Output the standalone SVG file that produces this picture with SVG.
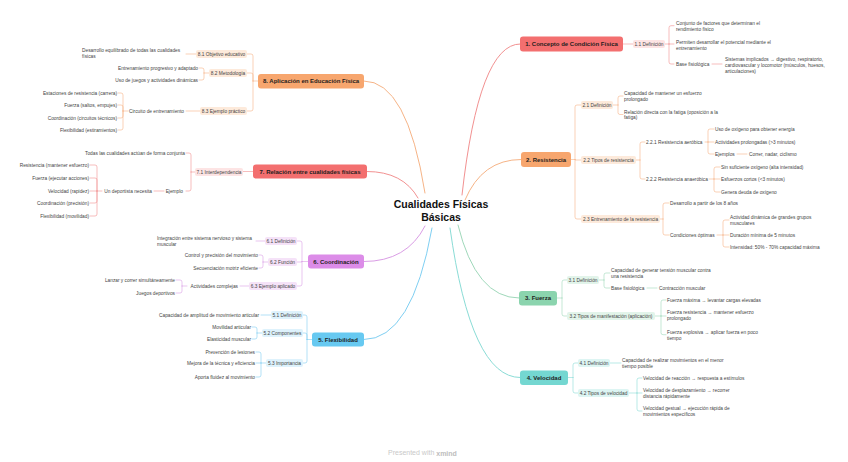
<svg xmlns="http://www.w3.org/2000/svg" width="848" height="462" viewBox="0 0 848 462">
<style>
text{font-family:"Liberation Sans",Arial,sans-serif;dominant-baseline:central;fill:#444}
.t{font-size:4.8px}
.e{text-anchor:end}
.lb{text-anchor:middle}
.n{font-size:6px;font-weight:bold;text-anchor:middle;fill:#1e1e1e}
.root{font-size:10.5px;font-weight:bold;text-anchor:middle;fill:#111}
.ft{font-size:7px;fill:#c9c9c9}
path{fill:none;stroke-linecap:round}
.m{stroke-width:1}
.s{stroke-width:.6}
.r{stroke:#F29191}.o{stroke:#F6B487}.g{stroke:#9FD8BA}.tl{stroke:#8ADCD6}.b{stroke:#7FCFF2}.p{stroke:#DA9DE5}
.br{fill:#F36F6F}.bo{fill:#F7A66E}.bg{fill:#8BD4AE}.bt{fill:#74D7D1}.bb{fill:#67C9F1}.bp{fill:#DC8CE8}
.lr{fill:#FDE4E4}.lo{fill:#FDEADB}.lg{fill:#E2F4EA}.lt{fill:#DDF5F3}.lbb{fill:#DEF2FC}.lp{fill:#F5E2F8}
</style>
<rect width="848" height="462" fill="#fff"/>
<g id="connectors">
<path class="m r" d="M462 195 Q479 44 520 44"/>
<path class="m o" d="M465 200 Q482 159.5 521 159.5"/>
<path class="m g" d="M458 225 Q476 298 519 298"/>
<path class="m tl" d="M450 228 Q471 377.5 520 377.5"/>
<path class="m b" d="M432 228 Q412 339.5 364 339.5"/>
<path class="m p" d="M425 226 Q407 261.5 364 261.5"/>
<path class="m r" d="M418 198 Q403 171.5 367 171.5"/>
<path class="m o" d="M425 193 Q407 81 364 81"/>
<path class="s r" d="M623 44 H633 M665 44 H669 M669 44 V27.7 Q669 25.7 671 25.7 H674 M669 44 H674 M669 44 V62 Q669 64 671 64 H674 M712 64 H722"/>
<path class="s o" d="M571 159.5 H575 M575 159.5 V107 Q575 105 577 105 H581 M575 159.5 V160 H581 M575 159.5 V217 Q575 219 577 219 H581 M613 105 H618 M618 105 V98 Q618 96 620 96 H623 M618 105 V112.5 Q618 114.5 620 114.5 H623 M636 160 H640 M640 160 V144 Q640 142 642 142 H645 M640 160 V177 Q640 179 642 179 H645 M705 142 H708 M708 142 V131 Q708 129 710 129 H714 M708 142 H714 M708 142 V152 Q708 154 710 154 H714 M737 154 H747 M709 179 H714 M714 179 V169 Q714 167 716 167 H720 M714 179 H720 M714 179 V190 Q714 192 716 192 H720 M660 219 H663 M663 219 V205 Q663 203 665 203 H669 M663 219 V233 Q663 235 665 235 H669 M717 235 H723 M723 235 V222 Q723 220 725 220 H729 M723 235 H729 M723 235 V245 Q723 247 725 247 H729"/>
<path class="s g" d="M557 298 H562 M562 298 V282 Q562 280 564 280 H567 M562 298 V314 Q562 316 564 316 H567 M599 280 H604 M604 280 V275 Q604 273 606 273 H610 M604 280 V286 Q604 288 606 288 H610 M647 288 H657 M655 316 H661 M661 316 V302 Q661 300 663 300 H666 M661 316 H666 M661 316 V332.7 Q661 334.7 663 334.7 H666"/>
<path class="s tl" d="M568 377.5 H573 M573 377.5 V365 Q573 363 575 363 H578 M573 377.5 V391 Q573 393 575 393 H578 M610 363 H621 M629 393 H637 M637 393 V380 Q637 378 639 378 H642 M637 393 H642 M637 393 V409 Q637 411 639 411 H642"/>
<path class="s o" d="M258 81 H253 M253 81 V56 Q253 54 251 54 H247 M253 81 V75 Q253 73 251 73 H247 M253 81 V109 Q253 111 251 111 H247 M196 54 H186 M209 73 H204 M204 73 V70 Q204 68 202 68 H199 M204 73 V78 Q204 80 202 80 H199 M200 111 H186 M128 111 H123 M123 111 V95 Q123 93 121 93 H118 M123 111 V107 Q123 105 121 105 H118 M123 111 V116 Q123 118 121 118 H118 M123 111 V128 Q123 130 121 130 H118"/>
<path class="s r" d="M253 171.5 H243 M195 172 H191 M191 172 V155 Q191 153 189 153 H186 M191 172 V189 Q191 191 189 191 H186 M164 191 H154 M102 191 H97 M97 191 V167 Q97 165 95 165 H90 M97 191 V180 Q97 178 95 178 H90 M97 191 H90 M97 191 V201 Q97 203 95 203 H90 M97 191 V214 Q97 216 95 216 H90"/>
<path class="s p" d="M308 261.5 H302 M302 261.5 V243 Q302 241 300 241 H297 M302 261.5 V262 H297 M302 261.5 V284 Q302 286 300 286 H297 M265 241 H256 M268 262 H263 M263 262 V257 Q263 255 261 255 H259 M263 262 V266 Q263 268 261 268 H259 M249 286 H240 M187 286 H182 M182 286 V282 Q182 280 180 280 H176 M182 286 V291 Q182 293 180 293 H176"/>
<path class="s b" d="M312 339.5 H307 M307 339.5 V317 Q307 315 305 315 H303 M307 339.5 V335 Q307 333 305 333 H303 M307 339.5 V361 Q307 363 305 363 H303 M271 315 H261 M262 333 H257 M257 333 V329 Q257 327 255 327 H252 M257 333 V337 Q257 339 255 339 H252 M266 363 H261 M261 363 V354 Q261 352 259 352 H256 M261 363 H256 M261 363 V375 Q261 377 259 377 H256"/>
</g>
<g id="root"><text class="root" x="441" y="204">Cualidades Físicas</text><text class="root" x="441" y="217">Básicas</text></g>
<!-- Branch 1 -->
<g id="n1"><rect class="br" x="520" y="36.5" width="103" height="15" rx="3"/><text class="n" x="571.5" y="44">1. Concepto de Condición Física</text></g>
<g id="n1-1"><rect class="lr" x="633" y="40" width="32" height="8" rx="2"/><text class="t lb" x="649" y="44">1.1 Definición</text></g>
<g id="n1-1-a"><text class="t"><tspan x="676" y="23">Conjunto de factores que determinan el</tspan><tspan x="676" y="28.6">rendimiento físico</tspan></text></g>
<g id="n1-1-b"><text class="t"><tspan x="676" y="42">Permiten desarrollar el potencial mediante el</tspan><tspan x="676" y="47.6">entrenamiento</tspan></text></g>
<g id="n1-1-c"><text class="t" x="676" y="64">Base fisiológica</text></g>
<g id="n1-1-c-a"><text class="t"><tspan x="725" y="59">Sistemas implicados → digestivo, respiratorio,</tspan><tspan x="725" y="64.8">cardiovascular y locomotor (músculos, huesos,</tspan><tspan x="725" y="70.6">articulaciones)</tspan></text></g>
<!-- Branch 2 -->
<g id="n2"><rect class="bo" x="521" y="152" width="50" height="15" rx="3"/><text class="n" x="546" y="159.5">2. Resistencia</text></g>
<g id="n2-1"><rect class="lo" x="581" y="101" width="32" height="8" rx="2"/><text class="t lb" x="597" y="105">2.1 Definición</text></g>
<g id="n2-1-a"><text class="t"><tspan x="624" y="93.3">Capacidad de mantener un esfuerzo</tspan><tspan x="624" y="99">prolongado</tspan></text></g>
<g id="n2-1-b"><text class="t"><tspan x="624" y="111.8">Relación directa con la fatiga (oposición a la</tspan><tspan x="624" y="117.4">fatiga)</tspan></text></g>
<g id="n2-2"><rect class="lo" x="581" y="156" width="55" height="8" rx="2"/><text class="t lb" x="608.5" y="160">2.2 Tipos de resistencia</text></g>
<g id="n2-2-1"><text class="t" x="646" y="142">2.2.1 Resistencia aeróbica</text></g>
<g id="n2-2-1-a"><text class="t" x="715" y="129">Uso de oxígeno para obtener energía</text></g>
<g id="n2-2-1-b"><text class="t" x="715" y="142">Actividades prolongadas (&gt;3 minutos)</text></g>
<g id="n2-2-1-c"><text class="t" x="715" y="154">Ejemplos</text></g>
<g id="n2-2-1-c-a"><text class="t" x="749" y="154">Correr, nadar, ciclismo</text></g>
<g id="n2-2-2"><text class="t" x="646" y="179">2.2.2 Resistencia anaeróbica</text></g>
<g id="n2-2-2-a"><text class="t" x="721" y="167">Sin suficiente oxígeno (alta intensidad)</text></g>
<g id="n2-2-2-b"><text class="t" x="721" y="179">Esfuerzos cortos (&lt;3 minutos)</text></g>
<g id="n2-2-2-c"><text class="t" x="721" y="192">Genera deuda de oxígeno</text></g>
<g id="n2-3"><rect class="lo" x="581" y="215" width="79" height="8" rx="2"/><text class="t lb" x="620.5" y="219">2.3 Entrenamiento de la resistencia</text></g>
<g id="n2-3-a"><text class="t" x="670" y="203">Desarrollo a partir de los 8 años</text></g>
<g id="n2-3-b"><text class="t" x="670" y="235">Condiciones óptimas</text></g>
<g id="n2-3-b-a"><text class="t"><tspan x="730" y="217">Actividad dinámica de grandes grupos</tspan><tspan x="730" y="222.8">musculares</tspan></text></g>
<g id="n2-3-b-b"><text class="t" x="730" y="235">Duración mínima de 5 minutos</text></g>
<g id="n2-3-b-c"><text class="t" x="730" y="247">Intensidad: 50% - 70% capacidad máxima</text></g>
<!-- Branch 3 -->
<g id="n3"><rect class="bg" x="519" y="291" width="38" height="14.5" rx="3"/><text class="n" x="538" y="298.2">3. Fuerza</text></g>
<g id="n3-1"><rect class="lg" x="567" y="276" width="32" height="8" rx="2"/><text class="t lb" x="583" y="280">3.1 Definición</text></g>
<g id="n3-1-a"><text class="t"><tspan x="611" y="270.2">Capacidad de generar tensión muscular contra</tspan><tspan x="611" y="275.8">una resistencia</tspan></text></g>
<g id="n3-1-b"><text class="t" x="611" y="288">Base fisiológica</text></g>
<g id="n3-1-b-a"><text class="t" x="659" y="288">Contracción muscular</text></g>
<g id="n3-2"><rect class="lg" x="567" y="312" width="88" height="8" rx="2"/><text class="t lb" x="611" y="316">3.2 Tipos de manifestación (aplicación)</text></g>
<g id="n3-2-a"><text class="t" x="667" y="300">Fuerza máxima → levantar cargas elevadas</text></g>
<g id="n3-2-b"><text class="t"><tspan x="667" y="312.2">Fuerza resistencia → mantener esfuerzo</tspan><tspan x="667" y="317.8">prolongado</tspan></text></g>
<g id="n3-2-c"><text class="t"><tspan x="667" y="331.9">Fuerza explosiva → aplicar fuerza en poco</tspan><tspan x="667" y="337.5">tiempo</tspan></text></g>
<!-- Branch 4 -->
<g id="n4"><rect class="bt" x="520" y="370.5" width="48" height="14.5" rx="3"/><text class="n" x="544" y="377.7">4. Velocidad</text></g>
<g id="n4-1"><rect class="lt" x="578" y="359" width="32" height="8" rx="2"/><text class="t lb" x="594" y="363">4.1 Definición</text></g>
<g id="n4-1-a"><text class="t"><tspan x="622" y="360.2">Capacidad de realizar movimientos en el menor</tspan><tspan x="622" y="365.8">tiempo posible</tspan></text></g>
<g id="n4-2"><rect class="lt" x="578" y="389" width="51" height="8" rx="2"/><text class="t lb" x="603.5" y="393">4.2 Tipos de velocidad</text></g>
<g id="n4-2-a"><text class="t" x="643" y="378">Velocidad de reacción → respuesta a estímulos</text></g>
<g id="n4-2-b"><text class="t"><tspan x="643" y="390.2">Velocidad de desplazamiento → recorrer</tspan><tspan x="643" y="395.8">distancia rápidamente</tspan></text></g>
<g id="n4-2-c"><text class="t"><tspan x="643" y="408.2">Velocidad gestual → ejecución rápida de</tspan><tspan x="643" y="413.8">movimientos específicos</tspan></text></g>
<!-- Branch 5 -->
<g id="n5"><rect class="bb" x="312" y="332.5" width="52" height="14" rx="3"/><text class="n" x="338" y="339.7">5. Flexibilidad</text></g>
<g id="n5-1"><rect class="lbb" x="271" y="311" width="32" height="8" rx="2"/><text class="t lb" x="287" y="315">5.1 Definición</text></g>
<g id="n5-1-a"><text class="t e" x="259" y="315">Capacidad de amplitud de movimiento articular</text></g>
<g id="n5-2"><rect class="lbb" x="262" y="329" width="41" height="8" rx="2"/><text class="t lb" x="282.5" y="333">5.2 Componentes</text></g>
<g id="n5-2-a"><text class="t e" x="251" y="327">Movilidad articular</text></g>
<g id="n5-2-b"><text class="t e" x="251" y="339">Elasticidad muscular</text></g>
<g id="n5-3"><rect class="lbb" x="266" y="359" width="37" height="8" rx="2"/><text class="t lb" x="284.5" y="363">5.3 Importancia</text></g>
<g id="n5-3-a"><text class="t e" x="255" y="352">Prevención de lesiones</text></g>
<g id="n5-3-b"><text class="t e" x="255" y="363">Mejora de la técnica y eficiencia</text></g>
<g id="n5-3-c"><text class="t e" x="255" y="377">Aporta fluidez al movimiento</text></g>
<!-- Branch 6 -->
<g id="n6"><rect class="bp" x="308" y="254.5" width="56" height="14" rx="3"/><text class="n" x="336" y="261.7">6. Coordinación</text></g>
<g id="n6-1"><rect class="lp" x="265" y="237" width="32" height="8" rx="2"/><text class="t lb" x="281" y="241">6.1 Definición</text></g>
<g id="n6-1-a"><text class="t"><tspan x="157" y="238.2">Integración entre sistema nervioso y sistema</tspan><tspan x="157" y="243.8">muscular</tspan></text></g>
<g id="n6-2"><rect class="lp" x="268" y="258" width="29" height="8" rx="2"/><text class="t lb" x="282.5" y="262">6.2 Función</text></g>
<g id="n6-2-a"><text class="t e" x="258" y="255">Control y precisión del movimiento</text></g>
<g id="n6-2-b"><text class="t e" x="258" y="268">Secuenciación motriz eficiente</text></g>
<g id="n6-3"><rect class="lp" x="249" y="282" width="48" height="8" rx="2"/><text class="t lb" x="273" y="286">6.3 Ejemplo aplicado</text></g>
<g id="n6-3-a"><text class="t e" x="238" y="286">Actividades complejas</text></g>
<g id="n6-3-a-a"><text class="t e" x="175" y="280">Lanzar y correr simultáneamente</text></g>
<g id="n6-3-a-b"><text class="t e" x="175" y="293">Juegos deportivos</text></g>
<!-- Branch 7 -->
<g id="n7"><rect class="br" x="253" y="164.5" width="114" height="14" rx="3"/><text class="n" x="310" y="171.7">7. Relación entre cualidades físicas</text></g>
<g id="n7-1"><rect class="lr" x="195" y="168" width="48" height="8" rx="2"/><text class="t lb" x="219" y="172">7.1 Interdependencia</text></g>
<g id="n7-1-a"><text class="t e" x="185" y="153">Todas las cualidades actúan de forma conjunta</text></g>
<g id="n7-1-b"><text class="t e" x="183" y="191">Ejemplo</text></g>
<g id="n7-1-b-a"><text class="t e" x="152" y="191">Un deportista necesita</text></g>
<g id="n7-1-b-a-1"><text class="t e" x="89" y="165">Resistencia (mantener esfuerzo)</text></g>
<g id="n7-1-b-a-2"><text class="t e" x="89" y="178">Fuerza (ejecutar acciones)</text></g>
<g id="n7-1-b-a-3"><text class="t e" x="89" y="191">Velocidad (rapidez)</text></g>
<g id="n7-1-b-a-4"><text class="t e" x="89" y="203">Coordinación (precisión)</text></g>
<g id="n7-1-b-a-5"><text class="t e" x="89" y="216">Flexibilidad (movilidad)</text></g>
<!-- Branch 8 -->
<g id="n8"><rect class="bo" x="258" y="74" width="106" height="14.5" rx="3"/><text class="n" x="311" y="81.2">8. Aplicación en Educación Física</text></g>
<g id="n8-1"><rect class="lo" x="196" y="50" width="51" height="8" rx="2"/><text class="t lb" x="221.5" y="54">8.1 Objetivo educativo</text></g>
<g id="n8-1-a"><text class="t"><tspan x="82" y="50.4">Desarrollo equilibrado de todas las cualidades</tspan><tspan x="82" y="56">físicas</tspan></text></g>
<g id="n8-2"><rect class="lo" x="209" y="69" width="38" height="8" rx="2"/><text class="t lb" x="228" y="73">8.2 Metodología</text></g>
<g id="n8-2-a"><text class="t e" x="198" y="68">Entrenamiento progresivo y adaptado</text></g>
<g id="n8-2-b"><text class="t e" x="198" y="80">Uso de juegos y actividades dinámicas</text></g>
<g id="n8-3"><rect class="lo" x="200" y="107" width="47" height="8" rx="2"/><text class="t lb" x="223.5" y="111">8.3 Ejemplo práctico</text></g>
<g id="n8-3-a"><text class="t e" x="184" y="111">Circuito de entrenamiento</text></g>
<g id="n8-3-a-1"><text class="t e" x="117" y="93">Estaciones de resistencia (carrera)</text></g>
<g id="n8-3-a-2"><text class="t e" x="117" y="105">Fuerza (saltos, empujes)</text></g>
<g id="n8-3-a-3"><text class="t e" x="117" y="118">Coordinación (circuitos técnicos)</text></g>
<g id="n8-3-a-4"><text class="t e" x="117" y="130">Flexibilidad (estiramientos)</text></g>
<g id="footer"><text class="ft" x="388" y="452.5">Presented with <tspan font-weight="bold" fill="#bdbdbd">xmind</tspan></text></g>
</svg>
